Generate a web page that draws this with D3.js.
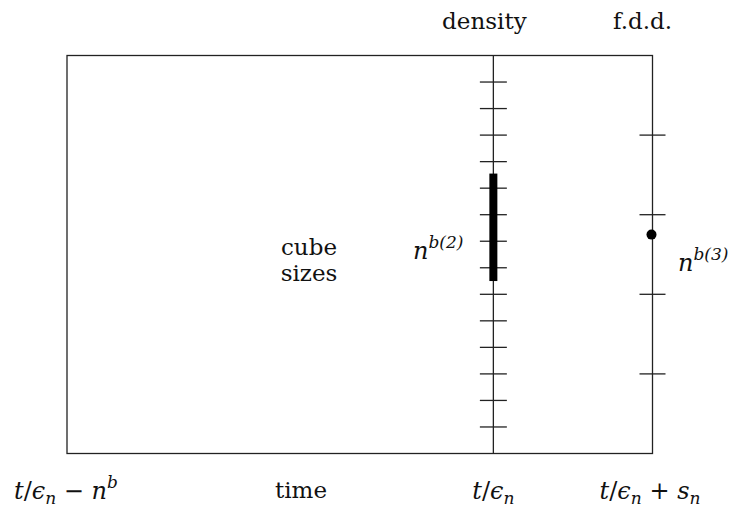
<!DOCTYPE html>
<html>
<head>
<meta charset="utf-8">
<script src="https://cdn.jsdelivr.net/npm/d3@7/dist/d3.min.js"></script>
<style>
  body { margin: 0; background: #fff; }
  .txt { font-family: "DejaVu Serif", serif; font-size: 23px; fill: #111; }
  .math { font-family: "DejaVu Serif", serif; font-size: 24px; fill: #111; }
  .math .it { font-style: italic; }
</style>
</head>
<body>
<div id="chart"></div>
<script>
// time positions (relative to t/eps_n), units arbitrary
var timeValues = [-426, 0, 159];
var timeLabels = ["start", "now", "end"];
// cube size levels on vertical scale (0..15)
var densityTicks = [1, 2, 3, 4, 5, 6, 7, 8, 9, 10, 11, 12, 13, 14];
var densityBar = [6.5, 10.55];
var fddTicks = [3, 6, 9, 12];
var fddPoint = [8.25];

var W = 730, H = 515;
var svg = d3.select("#chart").append("svg").attr("width", W).attr("height", H);

var x = d3.scaleLinear().domain([timeValues[0], timeValues[2]]).range([67, 652.5]);
var y = d3.scaleLinear().domain([0, 15]).range([453.5, 55.5]);

// box
svg.append("rect")
    .attr("x", x(timeValues[0])).attr("y", y(15))
    .attr("width", x(timeValues[2]) - x(timeValues[0]))
    .attr("height", y(0) - y(15))
    .attr("fill", "none").attr("stroke", "#222").attr("stroke-width", 1.3);

// density line with ticks
var xd = x(timeValues[1]);
svg.append("line").attr("x1", xd).attr("x2", xd).attr("y1", y(15)).attr("y2", y(0))
    .attr("stroke", "#222").attr("stroke-width", 1.3);
svg.selectAll(".dtick").data(densityTicks).enter().append("line")
    .attr("class", "dtick")
    .attr("x1", xd - 13.5).attr("x2", xd + 13.5)
    .attr("y1", function(d) { return y(d); }).attr("y2", function(d) { return y(d); })
    .attr("stroke", "#222").attr("stroke-width", 1.3);
svg.append("rect")
    .attr("x", xd - 4).attr("width", 8)
    .attr("y", y(densityBar[1])).attr("height", y(densityBar[0]) - y(densityBar[1]))
    .attr("fill", "#000");

// f.d.d. line
var xf = x(timeValues[2]);
svg.selectAll(".ftick").data(fddTicks).enter().append("line")
    .attr("class", "ftick")
    .attr("x1", xf - 13).attr("x2", xf + 13)
    .attr("y1", function(d) { return y(d); }).attr("y2", function(d) { return y(d); })
    .attr("stroke", "#222").attr("stroke-width", 1.3);
svg.selectAll(".fdot").data(fddPoint).enter().append("circle")
    .attr("cx", xf - 1).attr("cy", function(d) { return y(d); }).attr("r", 5)
    .attr("fill", "#000");

// plain labels
function label(txt, cx, by, anchor) {
  svg.append("text").attr("class", "txt").attr("x", cx).attr("y", by)
     .attr("text-anchor", anchor || "middle").text(txt);
}
label("density", xd - 9, 29);
label("f.d.d.", xf - 10, 29);
label("time", 301, 498);
label("cube", 309, 255);
label("sizes", 309, 281);

// math labels: parts [text, italic?, shift]
function mlabel(parts, px, py, anchor) {
  var t = svg.append("text").attr("class", "math").attr("x", px).attr("y", py)
     .attr("text-anchor", anchor || "middle");
  parts.forEach(function(p) {
    var s = t.append("tspan").text(p[0]);
    if (p[1]) s.attr("class", "it");
    if (p[2] === "sub") s.attr("dy", 5).attr("font-size", 17);
    if (p[2] === "sup") s.attr("dy", -11).attr("font-size", 17);
    if (p[2] === "back") s.attr("dy", p[3]);
  });
  return t;
}
mlabel([["t", 1], ["/", 0], ["ϵ", 1], ["n", 1, "sub"], [" − ", 0, "back", -5], ["n", 1], ["b", 1, "sup"]], 66, 499);
mlabel([["t", 1], ["/", 0], ["ϵ", 1], ["n", 1, "sub"]], xd, 499);
mlabel([["t", 1], ["/", 0], ["ϵ", 1], ["n", 1, "sub"], [" + ", 0, "back", -5], ["s", 1], ["n", 1, "sub"]], 650, 499);
mlabel([["n", 1], ["b(2)", 1, "sup"]], 413, 259, "start");
mlabel([["n", 1], ["b(3)", 1, "sup"]], 678, 271, "start");
</script>
</body>
</html>
